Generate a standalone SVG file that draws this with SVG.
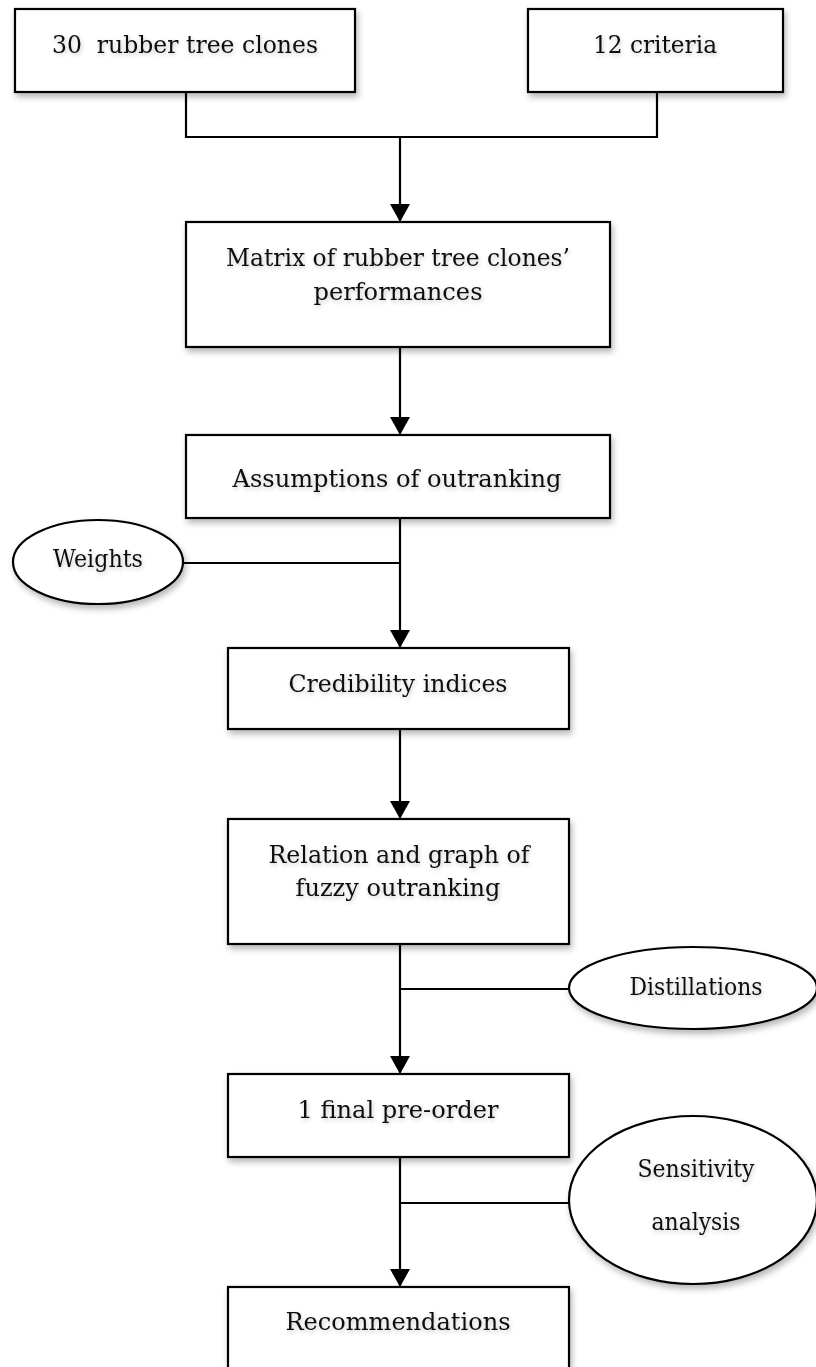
<svg xmlns="http://www.w3.org/2000/svg" width="816" height="1367" viewBox="0 0 816 1367">
  <style>
    .box { fill: #ffffff; stroke: #000000; stroke-width: 2.2; filter: url(#shadow); }
    .ell { fill: #ffffff; stroke: #000000; stroke-width: 2.2; filter: url(#shadow); }
    .lbl { font-family: "DejaVu Serif", "Liberation Serif", serif; font-size: 23.5px; fill: #111111; text-anchor: middle; filter: url(#tshadow); }
    .con { fill: none; stroke: #000000; stroke-width: 2.2; }
    .arr { marker-end: url(#ah); }
  </style>
  <defs>
    <filter id="shadow" x="-10%" y="-10%" width="125%" height="135%">
      <feDropShadow dx="2" dy="4" stdDeviation="3" flood-color="#000000" flood-opacity="0.28"/>
    </filter>
    <filter id="tshadow" x="-10%" y="-30%" width="120%" height="170%">
      <feDropShadow dx="1" dy="2" stdDeviation="2" flood-color="#000000" flood-opacity="0.22"/>
    </filter>
    <marker id="ah" viewBox="0 0 18 20" refX="18" refY="10" markerWidth="18" markerHeight="20" markerUnits="userSpaceOnUse" orient="auto">
      <path d="M0,0 L18,10 L0,20 z" fill="#000000"/>
    </marker>
  </defs>
  <rect width="816" height="1367" fill="#ffffff"/>

  <g id="connectors">
    <path class="con" d="M186,92 V137 H657 V92"/>
    <path class="con arr" d="M400,137 V222"/>
    <path class="con arr" d="M400,347 V435"/>
    <path class="con arr" d="M400,518 V648"/>
    <path class="con" d="M183,563 H400"/>
    <path class="con arr" d="M400,729 V819"/>
    <path class="con arr" d="M400,944 V1074"/>
    <path class="con" d="M400,989 H569"/>
    <path class="con arr" d="M400,1157 V1287"/>
    <path class="con" d="M400,1203 H569"/>
  </g>

  <g id="clones">
    <rect class="box" x="15" y="9" width="340" height="83"/>
    <text class="lbl" x="185" y="53" xml:space="preserve" textLength="266" lengthAdjust="spacingAndGlyphs">30  rubber tree clones</text>
  </g>
  <g id="criteria">
    <rect class="box" x="528" y="9" width="255" height="83"/>
    <text class="lbl" x="655" y="53" textLength="124" lengthAdjust="spacingAndGlyphs">12 criteria</text>
  </g>
  <g id="matrix">
    <rect class="box" x="186" y="222" width="424" height="125"/>
    <text class="lbl" x="398" y="266" textLength="344" lengthAdjust="spacingAndGlyphs">Matrix of rubber tree clones’</text>
    <text class="lbl" x="398" y="300" textLength="169" lengthAdjust="spacingAndGlyphs">performances</text>
  </g>
  <g id="assumptions">
    <rect class="box" x="186" y="435" width="424" height="83"/>
    <text class="lbl" x="397" y="487" textLength="329" lengthAdjust="spacingAndGlyphs">Assumptions of outranking</text>
  </g>
  <g id="weights">
    <ellipse class="ell" cx="98" cy="562" rx="85" ry="42"/>
    <text class="lbl" x="98" y="567" textLength="90" lengthAdjust="spacingAndGlyphs">Weights</text>
  </g>
  <g id="credibility">
    <rect class="box" x="228" y="648" width="341" height="81"/>
    <text class="lbl" x="398" y="692" textLength="219" lengthAdjust="spacingAndGlyphs">Credibility indices</text>
  </g>
  <g id="relation">
    <rect class="box" x="228" y="819" width="341" height="125"/>
    <text class="lbl" x="399" y="863" textLength="261" lengthAdjust="spacingAndGlyphs">Relation and graph of</text>
    <text class="lbl" x="398" y="896" textLength="205" lengthAdjust="spacingAndGlyphs">fuzzy outranking</text>
  </g>
  <g id="distillations">
    <ellipse class="ell" cx="693" cy="988" rx="124" ry="41"/>
    <text class="lbl" x="696" y="995" textLength="133" lengthAdjust="spacingAndGlyphs">Distillations</text>
  </g>
  <g id="preorder">
    <rect class="box" x="228" y="1074" width="341" height="83"/>
    <text class="lbl" x="398" y="1118" textLength="201" lengthAdjust="spacingAndGlyphs">1 final pre-order</text>
  </g>
  <g id="sensitivity">
    <ellipse class="ell" cx="693" cy="1200" rx="124" ry="84"/>
    <text class="lbl" x="696" y="1177" textLength="117" lengthAdjust="spacingAndGlyphs">Sensitivity</text>
    <text class="lbl" x="696" y="1230" textLength="89" lengthAdjust="spacingAndGlyphs">analysis</text>
  </g>
  <g id="recommendations">
    <rect class="box" x="228" y="1287" width="341" height="100"/>
    <text class="lbl" x="398" y="1330" textLength="225" lengthAdjust="spacingAndGlyphs">Recommendations</text>
  </g>
</svg>
